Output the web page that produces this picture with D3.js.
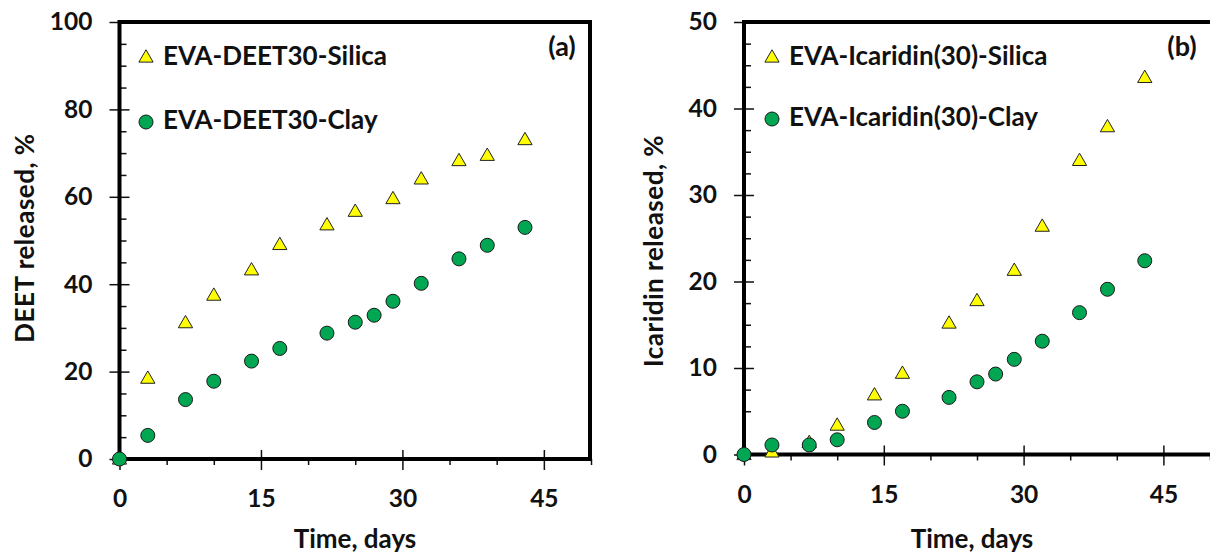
<!DOCTYPE html>
<html>
<head>
<meta charset="utf-8">
<script src="https://cdn.jsdelivr.net/npm/d3@7"></script>
<style>
  body { margin: 0; background: #fff; }
  svg { display: block; }
  text { font-family: Lato, "Open Sans", sans-serif; font-weight: bold; fill: #111; }
</style>
</head>
<body>
<script>
// data
var daysSilica = [0, 3, 7, 10, 14, 17, 22, 25, 29, 32, 36, 39, 43];
var daysClay = [0, 3, 7, 10, 14, 17, 22, 25, 27, 29, 32, 36, 39, 43];

var deetSilica = [0, 18.5, 31.2, 37.5, 43.3, 49.1, 53.6, 56.7, 59.6, 64.1, 68.3, 69.5, 73.1];
var deetClay = [0, 5.4, 13.6, 17.8, 22.4, 25.3, 28.8, 31.3, 32.9, 36.1, 40.2, 45.8, 48.9, 53.0];

var icaSilica = [0, 0.3, 1.4, 3.4, 6.9, 9.4, 15.2, 17.8, 21.3, 26.4, 34.0, 37.9, 43.6];
var icaClay = [0, 1.1, 1.1, 1.7, 3.7, 5.0, 6.6, 8.4, 9.3, 11.0, 13.1, 16.4, 19.1, 22.4];

var xTicks = [0, 15, 30, 45];
var xMinor = [5, 10, 20, 25, 35, 40, 50];
var yTicksA = [0, 20, 40, 60, 80, 100];
var yTicksB = [0, 10, 20, 30, 40, 50];

var svg = d3.select('body')
            .append('svg')
            .attr('width', 1210)
            .attr('height', 556);

var zip = function(xs, ys){
  return xs.map(function(x, i){ return {x: x, y: ys[i]}; });
};

var drawPanel = function(opt){
  var x = d3.scaleLinear().domain([0, 50]).range([opt.left, opt.right]);
  var y = d3.scaleLinear().domain([0, opt.yMax]).range([opt.bottom, opt.top]);
  var g = svg.append('g');

  // minor ticks: y inside, x outside
  var yMinor = d3.range(5, opt.yMax, opt.yMax / 20).filter(function(v){
    return opt.yTicks.indexOf(v) < 0;
  });
  g.append('g')
   .attr('transform', 'translate(' + opt.left + ',0)')
   .call(d3.axisRight(y).tickValues(yMinor).tickSize(7).tickFormat(''))
   .call(function(s){ s.select('.domain').remove(); });
  g.append('g')
   .attr('transform', 'translate(0,' + opt.bottom + ')')
   .call(d3.axisBottom(x).tickValues(xMinor).tickSize(6).tickFormat(''))
   .call(function(s){ s.select('.domain').remove(); });

  // major ticks cross the axis
  var yAxis = g.append('g')
   .attr('transform', 'translate(' + opt.left + ',0)')
   .call(d3.axisLeft(y).tickValues(opt.yTicks).tickSize(10).tickPadding(17))
   .call(function(s){ s.select('.domain').remove(); });
  yAxis.selectAll('.tick line').attr('x1', 10);

  var xAxis = g.append('g')
   .attr('transform', 'translate(0,' + opt.bottom + ')')
   .call(d3.axisBottom(x).tickValues(xTicks).tickSize(11).tickPadding(20))
   .call(function(s){ s.select('.domain').remove(); });
  xAxis.selectAll('.tick line').attr('y1', -9);

  g.selectAll('.tick line').attr('stroke', '#111').attr('stroke-width', 1.5);
  g.selectAll('.tick text')
   .style('font-family', 'Lato, "Open Sans", sans-serif')
   .style('font-weight', 'bold')
   .style('font-size', '24.5px')
   .attr('fill', '#111');

  // frame
  g.append('rect')
   .attr('x', opt.left)
   .attr('y', opt.top)
   .attr('width', opt.frameRight - opt.left)
   .attr('height', opt.bottom - opt.top)
   .attr('fill', 'none')
   .attr('stroke', '#000')
   .attr('stroke-width', 4);

  // titles
  g.append('text')
   .attr('x', opt.xTitleX)
   .attr('y', 548)
   .attr('text-anchor', 'middle')
   .style('font-size', '26px')
   .text('Time, days');
  g.append('text')
   .attr('transform', 'translate(' + opt.yTitleX + ',' + opt.yTitleY + ') rotate(-90)')
   .attr('text-anchor', 'middle')
   .style('font-size', '26px')
   .style('letter-spacing', '0.5px')
   .text(opt.yTitle);
  g.append('text')
   .attr('x', opt.tagX)
   .attr('y', 56)
   .attr('text-anchor', 'middle')
   .style('font-size', '27px')
   .text(opt.tag);

  var tri = d3.symbol().type(d3.symbolTriangle).size(88);

  // legend
  g.append('path')
   .attr('d', tri)
   .attr('transform', 'translate(' + opt.legX + ',58)')
   .attr('fill', '#ffff00')
   .attr('stroke', '#222')
   .attr('stroke-width', 1);
  g.append('circle')
   .attr('cx', opt.legX)
   .attr('cy', opt.legY2 - 6)
   .attr('r', 7)
   .attr('fill', '#00a651')
   .attr('stroke', '#1a1a1a')
   .attr('stroke-width', 1);
  g.append('text')
   .attr('x', opt.legX + 17)
   .attr('y', 65)
   .style('font-size', '26px')
   .text(opt.names[0]);
  g.append('text')
   .attr('x', opt.legX + 17)
   .attr('y', opt.legY2 + 1)
   .style('font-size', '26px')
   .text(opt.names[1]);

  // points: triangles first, circles on top
  g.selectAll('path.silica')
   .data(zip(daysSilica, opt.silica))
   .enter()
     .append('path')
     .attr('class', 'silica')
     .attr('d', tri)
     .attr('transform', function(d){ return 'translate(' + x(d.x) + ',' + (y(d.y) + 1) + ')'; })
     .attr('fill', '#ffff00')
     .attr('stroke', '#222')
     .attr('stroke-width', 1);

  g.selectAll('circle.clay')
   .data(zip(daysClay, opt.clay))
   .enter()
     .append('circle')
     .attr('class', 'clay')
     .attr('cx', function(d){ return x(d.x); })
     .attr('cy', function(d){ return y(d.y); })
     .attr('r', 7)
     .attr('fill', '#00a651')
     .attr('stroke', '#1a1a1a')
     .attr('stroke-width', 1);
};

drawPanel({
  left: 119.5, right: 591, frameRight: 590, top: 22, bottom: 459,
  yMax: 100, yTicks: yTicksA,
  silica: deetSilica, clay: deetClay,
  names: ['EVA-DEET30-Silica', 'EVA-DEET30-Clay'],
  yTitle: 'DEET released, %', yTitleX: 34, yTitleY: 238,
  xTitleX: 355, tag: '(a)', tagX: 562,
  legX: 146, legY2: 128
});

drawPanel({
  left: 744, right: 1210, frameRight: 1213, top: 22, bottom: 454.5,
  yMax: 50, yTicks: yTicksB,
  silica: icaSilica, clay: icaClay,
  names: ['EVA-Icaridin(30)-Silica', 'EVA-Icaridin(30)-Clay'],
  yTitle: 'Icaridin released, %', yTitleX: 663, yTitleY: 251,
  xTitleX: 972, tag: '(b)', tagX: 1182,
  legX: 772, legY2: 125
});
</script>
</body>
</html>
